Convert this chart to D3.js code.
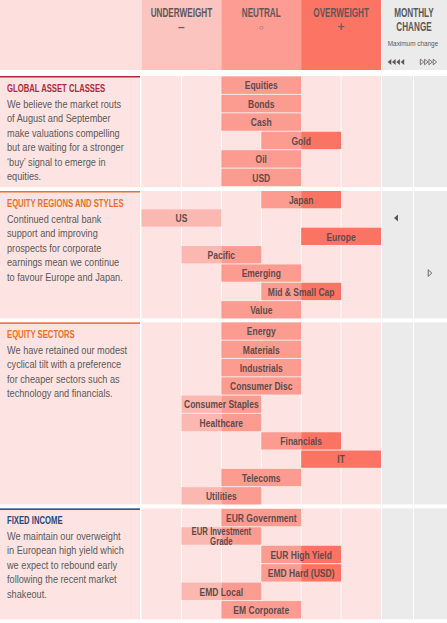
<!DOCTYPE html>
<html>
<head>
<meta charset="utf-8">
<script src="https://d3js.org/d3.v7.min.js"></script>
<style>
  body { margin: 0; background: #fff; }
  svg { display: block; }
  text { font-family: "Liberation Sans", Arial, sans-serif; }
</style>
</head>
<body>
<div id="chart"></div>
<script>
var width = 447, height = 623;

// ----- Data -----
var stances = ["UNDERWEIGHT", "NEUTRAL", "OVERWEIGHT"];
var stanceSymbols = ["\u2013", "\u25cb", "+"];
var stanceRanges = [[-3, -1], [-1, 1], [1, 3]];

var sectionTitles = ["GLOBAL ASSET CLASSES", "EQUITY REGIONS AND STYLES", "EQUITY SECTORS", "FIXED INCOME"];
var sectionText = [
  ["We believe the market routs", "of August and September", "make valuations compelling",
   "but are waiting for a stronger", "\u2018buy\u2019 signal to emerge in", "equities."],
  ["Continued central bank", "support and improving", "prospects for corporate",
   "earnings mean we continue", "to favour Europe and Japan."],
  ["We have retained our modest", "cyclical tilt with a preference", "for cheaper sectors such as",
   "technology and financials."],
  ["We maintain our overweight", "in European high yield which", "we expect to rebound early",
   "following the recent market", "shakeout."]
];
var assetNames = [
  ["Equities", "Bonds", "Cash", "Gold", "Oil", "USD"],
  ["Japan", "US", "Europe", "Pacific", "Emerging", "Mid & Small Cap", "Value"],
  ["Energy", "Materials", "Industrials", "Consumer Disc", "Consumer Staples", "Healthcare",
   "Financials", "IT", "Telecoms", "Utilities"],
  ["EUR Government", "EUR Investment Grade", "EUR High Yield", "EMD Hard (USD)", "EMD Local", "EM Corporate"]
];
// -2 = underweight ... +2 = overweight
var assetScores = [
  [0, 0, 0, 1, 0, 0],
  [1, -2, 2, -1, 0, 1, 0],
  [0, 0, 0, 0, -1, -1, 1, 2, 0, -1],
  [0, -1, 1, 1, -1, 0]
];
// monthly change: -1 downgrade, +1 upgrade
var monthlyChange = [
  [0, 0, 0, 0, 0, 0],
  [0, -1, 0, 0, 1, 0, 0],
  [0, 0, 0, 0, 0, 0, 0, 0, 0, 0],
  [0, 0, 0, 0, 0, 0]
];

// ----- Styles -----
var titleColors = ["#b3283d", "#e8702b", "#e8702b", "#26497a"];
var headColors = ["#fcc4bf", "#fc9c92", "#fb7464"];
var barColors = ["#fbb8b1", "#fc9b90", "#fb7362"];
var pinkBg = "#fde3e1";
var greyBg = "#ebebeb";
var labelColor = "#5f4b4b";
var textColor = "#5a5a5a";
var headText = "#5e5658";

var x = d3.scaleLinear().domain([-3, 3]).range([141.5, 381]);
var rowH = 18.2, minSection = 111, sectionGap = 4, firstTop = 76;
var chgX = [396, 430];

// ----- Helpers -----

// condensed text: squeeze a normal font horizontally around its anchor
function addText(ctx, x, y, str, size, sx, atts) {
  var t = ctx.append('text')
    .attr('transform', 'translate(' + x + ',' + y + ') scale(' + sx + ',1)')
    .attr('font-size', size)
    .text(str);
  if (atts) {
    for (var att of atts) {
      t.attr(...att);
    }
  }
  return t;
}

function triangle(cx, cy, dir, w, h) {
  // dir -1 points left, +1 points right
  return "M" + (cx + dir * w / 2) + "," + cy + "L" + (cx - dir * w / 2) + "," + (cy - h / 2) +
    "L" + (cx - dir * w / 2) + "," + (cy + h / 2) + "Z";
}

// ----- Main -----
var svg = d3.select("#chart").append("svg")
  .attr("width", width).attr("height", height);

// header
var head = svg.append("g");
head.append("rect").attr("x", 0).attr("y", 0).attr("width", 141.5).attr("height", 70).attr("fill", "#fde0dd");
stanceRanges.forEach(function (r, i) {
  head.append("rect").attr("x", x(r[0])).attr("y", 0)
    .attr("width", x(r[1]) - x(r[0])).attr("height", 70).attr("fill", headColors[i]);
  var cx = (x(r[0]) + x(r[1])) / 2;
  addText(head, cx, 16.5, stances[i], 12, 0.68,
    [['text-anchor', 'middle'], ['font-weight', 'bold'], ['fill', headText]]);
  addText(head, cx, i == 1 ? 29.5 : 30.5, stanceSymbols[i], i == 1 ? 8 : 12, 1,
    [['text-anchor', 'middle'], ['font-weight', 'bold'], ['fill', '#6e6163']]);
});
head.append("rect").attr("x", 382).attr("y", 0).attr("width", 65).attr("height", 70).attr("fill", greyBg);
addText(head, 414, 16.5, "MONTHLY", 12, 0.68, [['text-anchor', 'middle'], ['font-weight', 'bold'], ['fill', headText]]);
addText(head, 414, 31, "CHANGE", 12, 0.68, [['text-anchor', 'middle'], ['font-weight', 'bold'], ['fill', headText]]);
addText(head, 413, 46, "Maximum change", 8, 0.8, [['text-anchor', 'middle'], ['fill', headText]]);

d3.range(4).forEach(function (k) {
  head.append("path").attr("d", triangle(389.5 + k * 4.3, 62, -1, 3.6, 6)).attr("fill", headText);
  head.append("path").attr("d", triangle(422 + k * 4.3, 62, 1, 3.4, 5.6))
    .attr("fill", "none").attr("stroke", headText).attr("stroke-width", 0.8);
});

// sections
var secTop = firstTop;
assetNames.forEach(function (names, si) {
  var h = Math.max(names.length * rowH, minSection);
  var g = svg.append("g");

  // left commentary panel
  g.append("rect").attr("x", 0).attr("y", secTop).attr("width", 140).attr("height", h).attr("fill", pinkBg);
  g.append("rect").attr("x", 0).attr("y", secTop).attr("width", 140).attr("height", 1.5).attr("fill", titleColors[si]);
  addText(g, 7, secTop + 16, sectionTitles[si], 11.5, 0.67,
    [['font-weight', 'bold'], ['fill', titleColors[si]]]);
  sectionText[si].forEach(function (line, i) {
    addText(g, 7, secTop + 31.5 + i * 14.5, line, 10.8, 0.85, [['fill', textColor]]);
  });

  // grid background
  g.append("rect").attr("x", x(-3)).attr("y", secTop).attr("width", x(3) - x(-3)).attr("height", h).attr("fill", pinkBg);
  g.append("rect").attr("x", 382).attr("y", secTop).attr("width", 31).attr("height", h).attr("fill", greyBg);
  g.append("rect").attr("x", 414).attr("y", secTop).attr("width", 33).attr("height", h).attr("fill", greyBg);
  g.selectAll("line.grid").data([-2, -1, 0, 1, 2]).join("line").attr("class", "grid")
    .attr("x1", function (d) { return x(d); }).attr("x2", function (d) { return x(d); })
    .attr("y1", secTop).attr("y2", secTop + h).attr("stroke", "#fff").attr("stroke-width", 1);

  var y = d3.scaleBand().domain(names).range([secTop, secTop + names.length * rowH]).paddingInner(0.06);
  if (names.length * rowH < h) y.range([secTop + 0.5, secTop + h - 1]);

  names.forEach(function (name, i) {
    var s = assetScores[si][i];
    var lo = s - 1, hi = s + 1;
    stanceRanges.forEach(function (r, k) {
      var a = Math.max(lo, r[0]), b = Math.min(hi, r[1]);
      if (b > a) {
        g.append("rect").attr("x", x(a)).attr("y", y(name))
          .attr("width", x(b) - x(a)).attr("height", y.bandwidth()).attr("fill", barColors[k]);
      }
    });
    var cx = x(s), cy = y(name) + y.bandwidth() / 2;
    var sx = 0.74;
    var t = addText(g, cx, cy + 4.2, name, 11.5, sx,
      [['text-anchor', 'middle'], ['font-weight', 'bold'], ['fill', labelColor]]);
    if (t.node().getComputedTextLength() * sx > x(hi) - x(lo) - 4) {
      var words = name.split(" ");
      var last = words.pop();
      t.text(null).attr('font-size', 10.5)
        .attr('transform', 'translate(' + cx + ',' + (cy - 1) + ') scale(' + sx + ',1)');
      t.append("tspan").attr("x", 0).text(words.join(" "));
      t.append("tspan").attr("x", 0).attr("dy", 10).text(last);
    }
    var c = monthlyChange[si][i];
    if (c < 0) {
      g.append("path").attr("d", triangle(chgX[0], cy, -1, 4, 7)).attr("fill", headText);
    } else if (c > 0) {
      g.append("path").attr("d", triangle(chgX[1], cy, 1, 3.6, 6.5))
        .attr("fill", "none").attr("stroke", headText).attr("stroke-width", 0.9);
    }
  });

  secTop += h + sectionGap;
});
</script>
</body>
</html>
